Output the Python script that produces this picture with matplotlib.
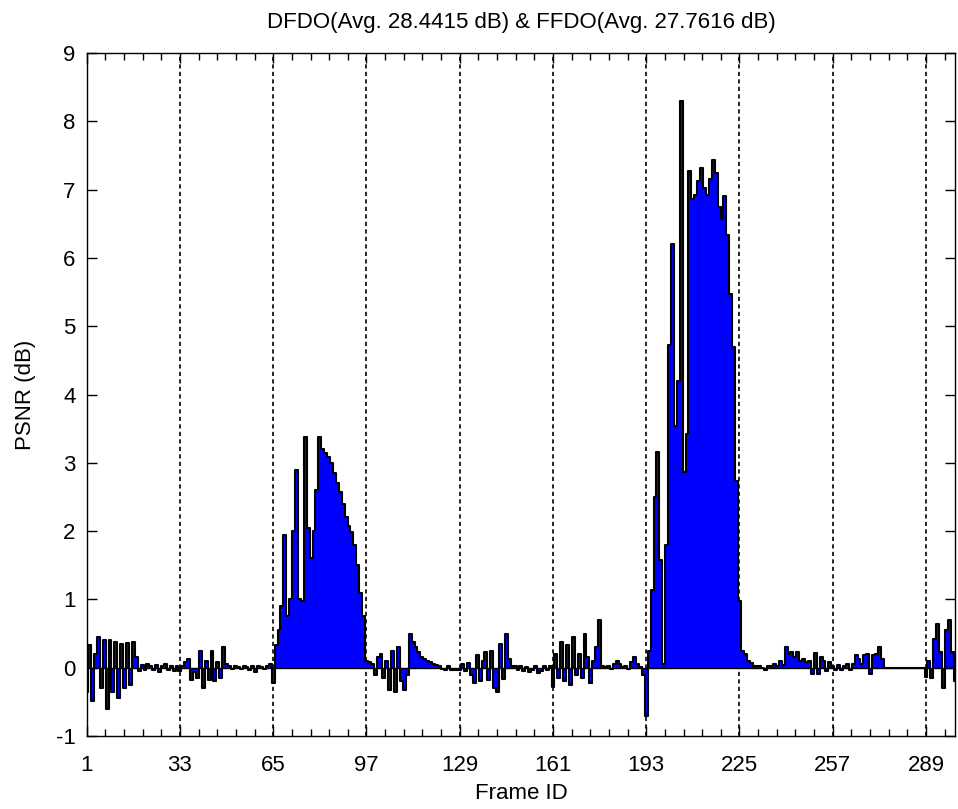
import numpy as np
import matplotlib
matplotlib.use("Agg")
import matplotlib.pyplot as plt
from matplotlib.ticker import FixedLocator

plt.rcParams['font.family'] = ['Liberation Sans', 'DejaVu Sans']
plt.rcParams['axes.unicode_minus'] = False

# PSNR difference per frame in blocks of 32 frames
seg_001_032 = [-0.35, 0.33, -0.48, 0.2, 0.45, -0.3, 0.4, -0.6, 0.4, -0.35, 0.38, -0.45, 0.35, -0.3, 0.36, -0.25,
               0.38, 0.16, -0.05, 0.04, -0.03, 0.05, 0.02, -0.04, 0.04, -0.06, 0.03, 0.05, -0.03, 0.02, -0.05, 0.03]
seg_033_064 = [-0.05, 0.03, 0.08, 0.13, -0.18, -0.06, -0.15, 0.25, -0.3, 0.1, -0.18, 0.25, -0.2, 0.08, -0.15, 0.3,
               0.06, 0.02, -0.02, 0.03, 0.01, -0.02, 0.02, 0.01, -0.03, 0.02, -0.06, 0.03, 0.01, -0.02, 0.02, 0.06]
seg_065_096 = [-0.22, 0.33, 0.55, 0.91, 1.95, 0.75, 1.0, 2.0, 2.9, 1.0, 0.97, 3.38, 2.05, 1.6, 2.0, 2.6,
               3.38, 3.2, 3.15, 3.08, 3.0, 2.85, 2.7, 2.57, 2.4, 2.2, 2.08, 1.98, 1.8, 1.5, 1.1, 0.75]
seg_097_128 = [0.1, 0.08, 0.05, -0.1, 0.15, 0.2, -0.15, 0.1, -0.33, 0.25, -0.35, 0.3, -0.2, -0.33, -0.1, 0.5,
               0.38, 0.3, 0.23, 0.16, 0.13, 0.1, 0.08, 0.06, 0.04, 0.03, -0.02, -0.04, 0.02, -0.03, -0.04, -0.03]
seg_129_160 = [-0.03, 0.05, -0.05, 0.07, -0.1, -0.23, 0.18, -0.2, 0.1, 0.23, -0.18, 0.25, -0.3, -0.36, 0.35, -0.16,
               0.5, 0.13, 0.03, 0.02, -0.03, 0.02, -0.05, 0.01, -0.06, -0.04, 0.02, -0.07, -0.05, 0.02, -0.04, 0.03]
seg_161_192 = [-0.28, 0.2, -0.15, 0.38, -0.2, 0.33, -0.25, 0.45, -0.1, 0.2, -0.15, 0.5, 0.15, -0.23, 0.1, 0.3,
               0.7, 0.02, 0.01, 0.03, -0.02, 0.05, 0.1, 0.05, 0.01, 0.02, -0.02, 0.08, 0.15, 0.06, 0.01, -0.1]
seg_193_224 = [-0.7, 0.24, 1.14, 2.5, 3.16, 1.57, 0.05, 1.8, 4.72, 6.2, 3.54, 4.2, 8.3, 2.87, 3.42, 7.27,
               6.86, 6.92, 7.12, 7.32, 7.03, 6.92, 7.15, 7.44, 7.24, 6.75, 6.57, 6.9, 6.34, 5.47, 4.69, 2.73]
seg_225_256 = [0.97, 0.25, 0.2, 0.1, 0.07, 0.03, 0.03, 0.02, 0.0, -0.04, 0.02, 0.03, 0.05, 0.02, 0.1, 0.04,
               0.3, 0.2, 0.23, 0.16, 0.23, 0.1, 0.13, 0.08, 0.1, -0.09, 0.21, -0.09, 0.15, 0.1, -0.05, 0.08]
seg_257_288 = [0.02, -0.03, 0.04, -0.04, 0.02, 0.05, -0.03, 0.06, 0.18, 0.13, 0.05, 0.18, 0.2, -0.09, 0.18, 0.2,
               0.3, 0.13, 0, 0, 0, 0, 0, 0, 0, 0, 0, 0, 0, 0, 0, 0]
seg_289_299 = [-0.14, 0.1, -0.15, 0.42, 0.64, 0.23, -0.3, 0.55, 0.7, 0.23, -0.2]

x_ticks = [1, 33, 65, 97, 129, 161, 193, 225, 257, 289]
y_ticks = [-1, 0, 1, 2, 3, 4, 5, 6, 7, 8, 9]
title = "DFDO(Avg. 28.4415 dB) & FFDO(Avg. 27.7616 dB)"

gain = np.concatenate([seg_001_032, seg_033_064, seg_065_096, seg_097_128, seg_129_160,
                       seg_161_192, seg_193_224, seg_225_256, seg_257_288, seg_289_299])
frames = np.arange(1, len(gain) + 1)

fig = plt.figure(figsize=(9.58, 8.09), dpi=100)
ax = fig.add_axes([0.0905, 0.0902, 0.9065, 0.8443])

for xv in x_ticks[1:]:
    ax.axvline(xv, color='k', linestyle=(0, (2.5, 2.0)), linewidth=1.2, zorder=1)

# bars drawn as a stepped area with a black outline
ax.fill_between(frames, gain, step='mid', color=(0, 0, 1), linewidth=0, zorder=2)
ax.step(frames, gain, where='mid', color='k', linewidth=1.5, zorder=3)
ax.axhline(0, color='k', linewidth=1.0, zorder=3)

ax.set_xlim(1, len(gain))
ax.set_ylim(-1, 9)
ax.set_xticks(x_ticks)
ax.set_yticks(y_ticks)
ax.xaxis.set_minor_locator(FixedLocator(np.arange(1, len(gain), 6.4)))
ax.tick_params(which='both', direction='in', top=True, right=True, labelsize=16, width=1.0)
ax.tick_params(which='major', length=7)
ax.tick_params(axis='x', which='major', pad=14)
ax.tick_params(axis='y', which='major', pad=8)
ax.tick_params(which='minor', length=5)
for s in ax.spines.values():
    s.set_linewidth(1.0)
    s.set_zorder(4)

ax.set_xlabel("Frame ID", fontsize=16, labelpad=5)
ax.set_ylabel("PSNR (dB)", fontsize=16, labelpad=14)
ax.set_title(title, fontsize=16, pad=18)

fig.savefig("out.png", dpi=100)
